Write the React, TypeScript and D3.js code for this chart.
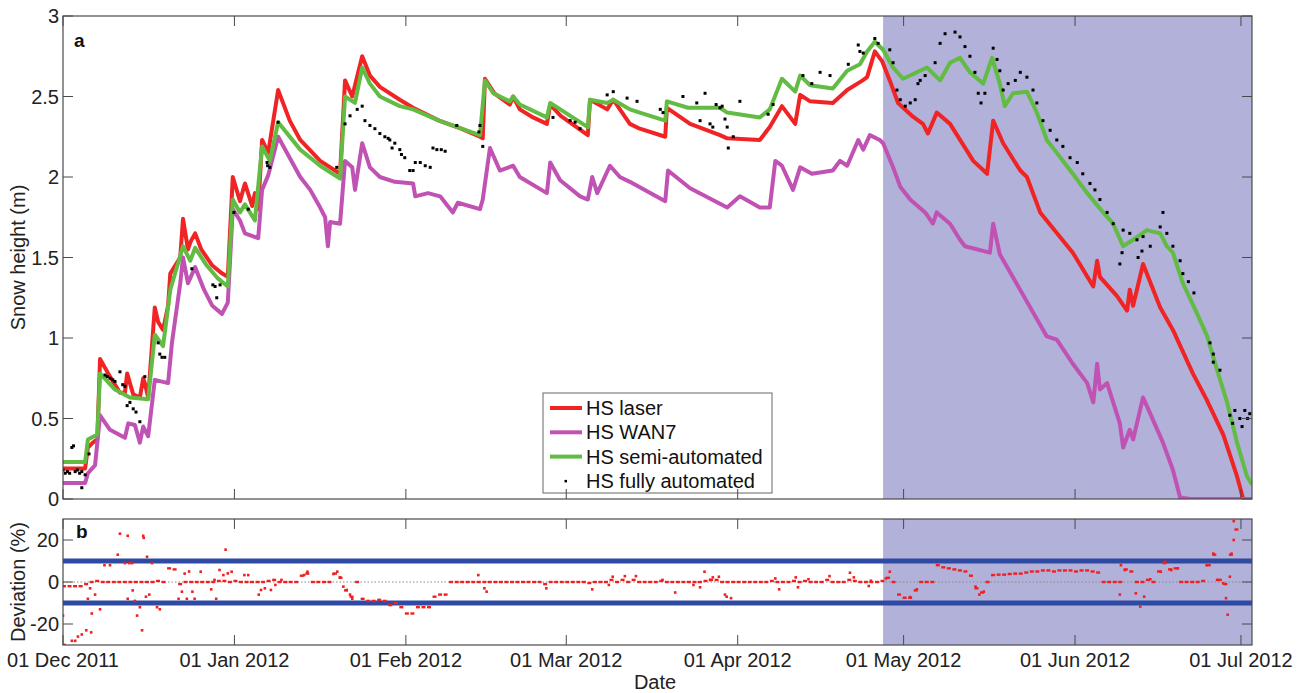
import React from "react";
import * as d3 from "d3";

// ---------- data (days since 01 Dec 2011, value) ----------
const hsLaser: [number, number][] = [
  [0,0.19],[4.0,0.19],[4.5,0.32],[5.4,0.35],[6.2,0.37],[6.7,0.87],[8.5,0.76],[10.3,0.66],[11.2,0.66],[11.6,0.78],
  [12.1,0.72],[12.7,0.65],[13.9,0.63],[14.5,0.75],[14.8,0.72],[15.4,0.63],[16.6,1.19],[17.2,1.1],[18.1,1.05],[19.0,1.2],
  [19.4,1.4],[21.2,1.5],[21.7,1.74],[22.6,1.55],[23.1,1.6],[23.9,1.65],[25.0,1.55],[27.0,1.45],[28.8,1.4],[29.8,1.38],[30.7,2.0],
  [32.0,1.85],[32.9,1.96],[34.2,1.82],[34.7,1.9],[35.3,1.8],[36.0,2.23],[37.1,2.15],[38.9,2.54],[41.0,2.35],[42.9,2.23],
  [46.5,2.1],[50.1,2.02],[51.0,2.6],[52.3,2.5],[54.1,2.75],[55.5,2.63],[57.3,2.56],[60.9,2.48],[63.3,2.43],[68.0,2.35],
  [72.0,2.3],[75.4,2.25],[75.9,2.24],[76.3,2.61],[78.0,2.52],[80.8,2.45],[81.4,2.5],[82.6,2.42],[85.0,2.37],[87.5,2.33],
  [88.1,2.45],[90.0,2.38],[94.9,2.26],[95.3,2.48],[98.4,2.42],[99.5,2.48],[102.5,2.33],[104.3,2.3],[108.9,2.25],[109.2,2.43],
  [113.4,2.33],[118.8,2.26],[120.1,2.24],[126.0,2.23],[127.8,2.31],[130.0,2.44],[132.4,2.33],[133.3,2.51],[135.1,2.47],[139.2,2.46],
  [141.8,2.54],[144.6,2.6],[145.4,2.62],[146.8,2.78],[148.1,2.72],[149.5,2.6],[151.0,2.46],[153.5,2.38],[155.5,2.33],[156.4,2.27],
  [158.0,2.4],[160.4,2.33],[164.6,2.1],[167.1,2.02],[168.2,2.35],[170.0,2.21],[173.1,2.04],[174.3,2.0],[176.7,1.78],[182.6,1.53],
  [186.3,1.32],[187.0,1.48],[187.5,1.38],[190.6,1.26],[192.4,1.17],[192.9,1.3],[193.5,1.2],[195.3,1.46],[198.4,1.19],[200.7,1.05],
  [204.3,0.78],[206.9,0.61],[209.8,0.4],[212.3,0.14],[213.4,0.0]
];

const hsWan7: [number, number][] = [
  [0,0.1],[4.0,0.1],[4.5,0.16],[5.8,0.21],[6.7,0.52],[8.5,0.43],[11.2,0.38],[11.8,0.47],[13.0,0.46],[13.9,0.35],
  [14.5,0.45],[15.4,0.39],[16.6,0.74],[19.0,0.72],[19.7,0.97],[21.2,1.34],[21.7,1.5],[22.6,1.34],[23.9,1.44],[25.5,1.3],[27.0,1.2],[28.75,1.15],
  [29.8,1.22],[30.7,1.8],[32.0,1.73],[32.9,1.65],[35.3,1.62],[36.0,1.92],[37.1,2.01],[38.9,2.25],[42.9,2.0],[44.7,1.92],
  [46.5,1.81],[47.4,1.75],[47.9,1.57],[48.3,1.72],[50.1,1.71],[51.0,2.1],[52.3,2.06],[52.8,1.92],[54.1,2.21],[55.5,2.06],
  [57.3,2.0],[60.0,1.97],[63.3,1.96],[63.7,1.88],[66.0,1.9],[68.2,1.88],[70.5,1.78],[71.4,1.84],[75.4,1.8],[75.9,1.86],[77.2,2.18],[79.0,2.04],
  [81.4,2.07],[82.6,2.0],[87.5,1.9],[88.1,2.09],[89.9,1.98],[93.5,1.88],[94.9,1.86],[95.7,2.0],[96.6,1.9],[98.9,2.07],
  [100.7,2.0],[102.5,1.97],[108.9,1.85],[109.4,2.04],[113.4,1.93],[120.1,1.81],[122.4,1.88],[126.0,1.81],[127.8,1.81],[128.8,2.1],
  [130.0,2.07],[132.0,1.92],[133.3,2.06],[135.4,2.02],[139.2,2.04],[140.5,2.1],[141.8,2.07],[143.8,2.23],[144.7,2.17],[145.9,2.26],
  [147.7,2.23],[148.3,2.21],[150.1,2.06],[151.4,1.94],[153.2,1.86],[155.9,1.78],[157.3,1.71],[158.0,1.78],[160.4,1.71],[162.2,1.61],
  [163.1,1.57],[167.6,1.53],[168.2,1.71],[169.4,1.52],[174.9,1.19],[177.9,1.01],[179.7,0.99],[182.6,0.84],[185.2,0.72],[186.3,0.6],
  [187.0,0.84],[187.5,0.68],[188.8,0.72],[191.1,0.47],[191.7,0.32],[192.9,0.43],[193.5,0.37],[195.3,0.63],[196.6,0.53],[198.9,0.35],
  [200.7,0.18],[202.0,0.01],[203.8,0.0],[215.0,0.0]
];

const hsSemi: [number, number][] = [
  [0,0.23],[4.0,0.23],[4.5,0.37],[6.2,0.4],[6.7,0.78],[9.4,0.68],[12.1,0.63],[15.4,0.62],[16.6,1.02],[18.1,0.95],
  [19.4,1.3],[21.7,1.57],[23.0,1.48],[23.9,1.56],[26.0,1.45],[28.0,1.37],[29.8,1.32],[30.7,1.86],[32.0,1.78],[32.9,1.83],[34.7,1.73],
  [36.0,2.19],[37.4,2.1],[38.9,2.34],[42.9,2.17],[46.5,2.07],[50.1,1.99],[51.0,2.5],[52.8,2.46],[54.1,2.68],[55.5,2.58],
  [57.3,2.5],[60.9,2.44],[63.3,2.42],[68.0,2.35],[75.4,2.26],[76.3,2.6],[77.8,2.52],[80.8,2.47],[81.4,2.5],[82.6,2.45],
  [87.5,2.37],[88.1,2.46],[94.9,2.31],[95.3,2.48],[98.4,2.46],[99.5,2.48],[102.5,2.42],[104.3,2.4],[108.9,2.35],[109.2,2.47],
  [113.0,2.43],[118.8,2.43],[120.1,2.4],[126.0,2.37],[127.8,2.42],[130.0,2.61],[132.4,2.53],[133.3,2.63],[135.1,2.57],[139.2,2.55],
  [141.8,2.66],[144.1,2.7],[145.4,2.78],[146.8,2.84],[148.3,2.79],[150.1,2.68],[151.9,2.61],[155.0,2.66],[156.2,2.68],[158.6,2.6],
  [160.4,2.71],[162.2,2.74],[164.0,2.65],[166.4,2.58],[168.0,2.74],[169.4,2.58],[170.3,2.44],[171.8,2.52],[174.3,2.53],[176.1,2.4],
  [177.9,2.23],[179.7,2.15],[182.6,2.02],[185.2,1.9],[188.1,1.78],[189.9,1.71],[191.7,1.57],[193.5,1.61],[196.0,1.67],[198.4,1.65],
  [199.6,1.57],[200.7,1.53],[202.5,1.34],[205.1,1.15],[206.9,1.01],[208.7,0.8],[210.5,0.6],[212.3,0.35],[214.1,0.14],[215.0,0.09]
];

const hsFully: [number, number][] = [
  [0,0.18],[0.4,0.16],[0.8,0.17],[1.2,0.16],[1.6,0.32],[1.9,0.33],[2.2,0.17],[2.6,0.18],[3.0,0.16],[3.4,0.17],
  [3.4,0.07],[4.0,0.15],[4.7,0.28],[7.6,0.77],[8.0,0.76],[8.5,0.75],[9.0,0.74],[9.4,0.73],[10.3,0.79],[10.8,0.71],
  [11.2,0.7],[11.6,0.58],[12.1,0.6],[12.7,0.56],[13.2,0.54],[13.9,0.48],[14.8,0.76],[17.2,0.97],[17.5,0.9],[17.9,0.88],
  [18.4,0.88],[23.3,1.43],[27.1,1.33],[27.5,1.32],[27.8,1.25],[28.4,1.33],[30.9,1.78],[33.5,1.8],[36.9,2.09],[37.0,2.07],
  [37.4,2.06],[38.9,2.34],[49.5,2.06],[51.0,2.33],[51.9,2.38],[53.2,2.42],[54.1,2.44],[54.6,2.35],[55.5,2.32],[56.4,2.3],
  [57.3,2.27],[58.2,2.25],[58.8,2.24],[59.1,2.23],[60.0,2.21],[59.5,2.18],[60.9,2.17],[61.2,2.14],[61.8,2.12],[62.7,2.04],
  [63.3,2.04],[63.7,2.09],[64.6,2.09],[65.5,2.07],[66.4,2.06],[66.9,2.18],[67.6,2.17],[68.4,2.17],[69.1,2.16],[71.2,2.32],
  [75.2,2.28],[75.4,2.32],[75.9,2.19],[88.6,2.37],[91.7,2.35],[92.6,2.34],[93.5,2.3],[98.4,2.51],[99.5,2.53],[102.0,2.49],
  [103.8,2.47],[108.0,2.42],[108.5,2.4],[112.1,2.5],[114.6,2.46],[115.2,2.35],[116.1,2.52],[117.0,2.33],[117.5,2.31],[118.1,2.45],
  [118.8,2.43],[119.2,2.44],[119.7,2.36],[120.1,2.31],[120.3,2.18],[121.2,2.25],[122.4,2.47],[127.5,2.39],[128.4,2.45],[133.8,2.63],
  [135.4,2.58],[136.9,2.65],[138.7,2.63],[142.0,2.7],[143.8,2.82],[144.1,2.78],[144.7,2.77],[146.8,2.86],[147.4,2.83],[149.5,2.79],
  [150.1,2.71],[150.8,2.54],[151.4,2.48],[152.3,2.44],[153.2,2.46],[154.1,2.48],[154.6,2.58],[155.0,2.6],[155.9,2.63],[157.7,2.71],
  [158.6,2.83],[159.5,2.89],[161.3,2.9],[162.2,2.87],[163.1,2.81],[164.0,2.75],[164.9,2.65],[165.5,2.52],[166.0,2.46],[166.7,2.52],
  [168.2,2.8],[168.9,2.73],[169.4,2.66],[170.0,2.54],[170.9,2.58],[172.2,2.6],[173.1,2.65],[174.3,2.62],[175.4,2.54],[176.1,2.46],
  [177.2,2.35],[178.5,2.29],[179.7,2.23],[180.8,2.19],[182.1,2.12],[183.4,2.09],[184.4,2.02],[185.7,1.96],[186.6,1.92],[187.5,1.86],
  [188.8,1.78],[189.9,1.71],[191.5,1.53],[191.1,1.46],[191.7,1.67],[192.9,1.65],[194.2,1.61],[194.4,1.5],[195.1,1.54],[195.3,1.63],
  [196.6,1.57],[198.4,1.69],[198.9,1.78],[199.6,1.65],[200.7,1.57],[202.0,1.48],[202.5,1.4],[203.5,1.35],[204.5,1.28],[207.4,0.97],
  [208.0,0.9],[208.0,0.85],[209.2,0.8],[211.0,0.52],[211.9,0.55],[212.8,0.5],[213.7,0.55],[214.6,0.53],[211.5,0.47],[213.2,0.45],
  [214.2,0.5]
];

// deviation (%), one reading per day from 01 Dec 2011
const deviationDaily: number[] = [
  -2,-2,-2,-2,-1,0,0.5,0,0,0,
  0,0,0,0,0,0,0,0.5,0,6.5,
  6,-1,0,0,0,0,0,0,0.5,0.5,
  0,0.5,0,0,0,0,0,0.5,1,0,
  0,0,0,3,4,0,0,0,0,4,
  2,-4,-7,0,-8,-9,-9,-8.5,-9,-11,
  -10,-12,-15,-15,-12,-12,-12,-7,-6,-6,
  0,0,0,0,0,0,0,0,0,0,
  0,0,0,0,0,0,0,-1,0,0,
  0,0,0,0,0,-0.5,0,0,0,1,
  0,1,0,1,0,0,0,0,0.5,0,
  0,0,0,0,0,0,0.5,1,1,0,
  0,0,0,0,0,0,0,0,0.5,0,
  0,0,0.5,0,0.5,0,0,0,1,0,
  0,0,1,0.5,0,0,0,0,0.5,2,
  0,-6,-7.5,-7.5,-4,0,0,0,8,7,
  6.5,6,5.5,5,3,-3,-5,0,3.3,3.5,
  3.5,3.8,4,4,4.5,5,5,5.5,5.5,5,
  5.5,5.5,5.5,5,5.5,5.5,5,4.5,0,0,
  0,0,6,5,0,0,1,0,5,9,
  6,6.5,0,0,0,0,0.5,8,13,1,
  -1,13,25
];

const deviationExtra: [number, number][] = [
  [0,-16],[0.3,-30],[1.6,-28],[2.2,-28],[2.7,-26],[3.4,-25],[4.2,-23],[5.1,-24],[4.5,-8],[5.2,-15],
  [4.9,-3],[5.8,-6],[6.7,-13],[7.5,8],[8.5,8],[9.9,13],[10.3,23],[11.7,22],[11.2,9],[12,9],
  [12.5,9],[12.6,-4],[13,-9],[11.7,-8],[13.4,-16],[13.9,-12],[14.3,-23],[14.5,22],[14.6,21],[15.2,12],
  [15.0,-7],[15.6,-6],[16.1,9],[17,-12],[17.5,-13],[20.9,-8],[22,4],[22.8,5],[22.4,-8],[21.5,-4.6],
  [23.4,-4.6],[23.8,-8],[24.9,4.9],[26.8,-3.5],[27.4,1],[27.7,-8],[28.3,5.7],[29.4,15.4],[29,3.3],[29.8,4.1],
  [30.5,4.9],[32.8,3.3],[33.5,3.3],[35.4,-6],[35.8,-3.8],[36.5,-3],[37.6,-3.8],[38.4,-1.4],[39.5,1],[43.6,3.3],
  [44.2,4.9],[48.9,3.8],[49.6,4.9],[50.1,2.2],[50.7,-2.2],[51.3,-3.8],[51.9,-6],[52.3,-8],[75.1,3.3],[76.2,-3],
  [76.6,-4.6],[87.4,-3],[95.7,-3.5],[98.7,-1.4],[99.4,2.5],[101.6,2.8],[103.6,2.8],[108.4,1],[110.7,-5],[114,-1.4],
  [115.2,-2.5],[116,4.9],[117,1],[117.5,2.2],[118.6,2.5],[119.7,-6],[120,-7],[120.8,-7.7],[128.8,1.7],[129.5,-3.5],
  [132.5,2.2],[132.9,-2.5],[134.8,1.3],[138.6,2.8],[142.3,4.4],[143,2.2],[145.7,-1.9],[146.1,0.6],[148.8,1.7],[149.5,4.9],
  [153.2,-7.2],[154.4,-3.5],[165,-2.2],[165.7,-6],[166.5,-4.6],[191.1,-6],[191.3,8],[192,5.7],[194,-5.4],[194.8,-11.7],
  [195.5,-7],[196.6,1.3],[198.5,4.9],[199.3,9.6],[200.4,5.7],[201.6,6.5],[206.8,8],[208,13.5],[208.7,1],[209.8,-0.6],
  [210.3,-7.7],[210.6,-15.6],[211,2.5],[211.3,13.5],[211.7,20],[211.7,29]
];

const monthTicks: string[] = ["2011-12-01","2012-01-01","2012-02-01","2012-03-01","2012-04-01","2012-05-01","2012-06-01","2012-07-01"];
const heightTicks: number[] = [0, 0.5, 1, 1.5, 2, 2.5, 3];
const heightTickLabels: string[] = ["0", "0.5", "1", "1.5", "2", "2.5", "3"];
const deviationTicks: number[] = [-20, 0, 20];
const thresholds: number[] = [-10, 10];
const meltStart = "2012-04-27T07:00:00Z";

const legendItems = [
  { label: "HS laser", color: "#f02424", kind: "line" },
  { label: "HS WAN7", color: "#c052b4", kind: "line" },
  { label: "HS semi-automated", color: "#62bb42", kind: "line" },
  { label: "HS fully automated", color: "#000000", kind: "dot" },
];

// ---------- helpers ----------
const DAY0 = Date.UTC(2011, 11, 1);
const toDate = (d: number) => new Date(DAY0 + d * 864e5);
const FONT = '"Liberation Sans", Arial, Helvetica, sans-serif';

export default function App() {
  const L = 63, R = 1252;
  const T1 = 16, B1 = 499;
  const T2 = 519, B2 = 645;
  const FS = 20;

  const x = d3.scaleUtc().domain([toDate(0), toDate(215)]).range([L, R]);
  const yTop = d3.scaleLinear().domain([0, 3]).range([B1, T1]);
  const yBot = d3.scaleLinear().domain([-30, 30]).range([B2, T2]);

  const parse = d3.utcParse("%Y-%m-%d");
  const fmt = d3.utcFormat("%d %b %Y");
  const ticks = monthTicks.map((s) => parse(s) as Date);
  const shadeX = x(new Date(meltStart));

  const line = d3
    .line<[number, number]>()
    .x((d) => x(toDate(d[0])))
    .y((d) => yTop(d[1]));

  const axisColor = "#4a4a4a";
  const tickLen = 10;

  const tickMarksX = (top: number, bottom: number) =>
    ticks.map((t, i) => {
      const tx = x(t);
      return (
        <g key={"tx" + i}>
          <line x1={tx} x2={tx} y1={bottom} y2={bottom - tickLen} stroke={axisColor} />
          <line x1={tx} x2={tx} y1={top} y2={top + tickLen} stroke={axisColor} />
        </g>
      );
    });

  return (
    <svg
      width={1306}
      height={693}
      style={{ position: "absolute", left: 0, top: 0, background: "#fff" }}
      fontFamily={FONT}
    >
      <defs>
        <clipPath id="clipTop">
          <rect x={L} y={T1} width={R - L} height={B1 - T1} />
        </clipPath>
        <clipPath id="clipBot">
          <rect x={L} y={T2} width={R - L} height={B2 - T2} />
        </clipPath>
      </defs>
      <rect x={0} y={0} width={1306} height={693} fill="#fff" />

      {/* ---------- top panel ---------- */}
      <rect x={shadeX} y={T1} width={R - shadeX} height={B1 - T1} fill="#b1b1d9" />
      <g clipPath="url(#clipTop)" fill="none" strokeWidth={4} strokeLinejoin="round">
        <path d={line(hsLaser) || ""} stroke={legendItems[0].color} />
        <path d={line(hsWan7) || ""} stroke={legendItems[1].color} />
        <path d={line(hsSemi) || ""} stroke={legendItems[2].color} />
        <g fill="#000">
          {hsFully.map((d, i) => (
            <rect key={i} x={x(toDate(d[0])) - 1.5} y={yTop(d[1]) - 1.5} width={3} height={3} />
          ))}
        </g>
      </g>
      <text x={74} y={47} fontSize={19} fontWeight="bold" fill="#111">a</text>

      {/* legend */}
      <g>
        <rect x={543} y={393} width={229} height={100} fill="#fff" stroke="#666" strokeWidth={1} />
        {legendItems.map((it, i) => {
          const cy = 408 + i * 24.3;
          return (
            <g key={it.label}>
              {it.kind === "line" ? (
                <line x1={550} x2={582} y1={cy} y2={cy} stroke={it.color} strokeWidth={4} />
              ) : (
                <rect x={564.5} y={cy - 1} width={2.5} height={2.5} fill="#000" />
              )}
              <text x={586} y={cy + 7} fontSize={FS} fill="#111">{it.label}</text>
            </g>
          );
        })}
      </g>

      {/* axes top */}
      <rect x={L} y={T1} width={R - L} height={B1 - T1} fill="none" stroke={axisColor} strokeWidth={1.2} />
      {tickMarksX(T1, B1)}
      {heightTicks.map((v, i) => (
        <g key={"hy" + i}>
          <line x1={L} x2={L + tickLen} y1={yTop(v)} y2={yTop(v)} stroke={axisColor} />
          <line x1={R} x2={R - tickLen} y1={yTop(v)} y2={yTop(v)} stroke={axisColor} />
          <text x={L - 4} y={yTop(v) + 7} fontSize={FS} textAnchor="end" fill="#222">
            {heightTickLabels[i]}
          </text>
        </g>
      ))}
      <text
        transform={`translate(25,${(T1 + B1) / 2}) rotate(-90)`}
        fontSize={FS}
        textAnchor="middle"
        fill="#222"
      >
        Snow height (m)
      </text>

      {/* ---------- bottom panel ---------- */}
      <rect x={shadeX} y={T2} width={R - shadeX} height={B2 - T2} fill="#b1b1d9" />
      <g clipPath="url(#clipBot)">
        <line x1={L} x2={R} y1={yBot(0)} y2={yBot(0)} stroke="#8a8a8a" strokeWidth={1} strokeDasharray="1.5,2" />
        {thresholds.map((t) => (
          <line key={t} x1={L} x2={R} y1={yBot(t)} y2={yBot(t)} stroke="#2f4aa3" strokeWidth={5} />
        ))}
        <g fill="#f02020">
          {deviationDaily.map((v, i) => (
            <rect key={"dd" + i} x={x(toDate(i)) - 1} y={yBot(v) - 1.2} width={4} height={2.4} />
          ))}
          {deviationExtra.map((d, i) => (
            <rect key={"de" + i} x={x(toDate(d[0])) - 1.3} y={yBot(d[1]) - 1.3} width={2.6} height={2.6} />
          ))}
        </g>
      </g>
      <text x={76} y={538} fontSize={19} fontWeight="bold" fill="#111">b</text>

      <rect x={L} y={T2} width={R - L} height={B2 - T2} fill="none" stroke={axisColor} strokeWidth={1.2} />
      {tickMarksX(T2, B2)}
      {deviationTicks.map((v, i) => (
        <g key={"dy" + i}>
          <line x1={L} x2={L + tickLen} y1={yBot(v)} y2={yBot(v)} stroke={axisColor} />
          <line x1={R} x2={R - tickLen} y1={yBot(v)} y2={yBot(v)} stroke={axisColor} />
          <text x={L - 4} y={yBot(v) + 7} fontSize={FS} textAnchor="end" fill="#222">
            {v}
          </text>
        </g>
      ))}
      {ticks.map((t, i) => (
        <text key={"xl" + i} x={x(t)} y={667} fontSize={FS} textAnchor="middle" fill="#222">
          {fmt(t)}
        </text>
      ))}
      <text
        transform={`translate(25,${(T2 + B2) / 2}) rotate(-90)`}
        fontSize={FS}
        textAnchor="middle"
        fill="#222"
      >
        Deviation (%)
      </text>
      <text x={655} y={689} fontSize={FS} textAnchor="middle" fill="#222">Date</text>
    </svg>
  );
}
